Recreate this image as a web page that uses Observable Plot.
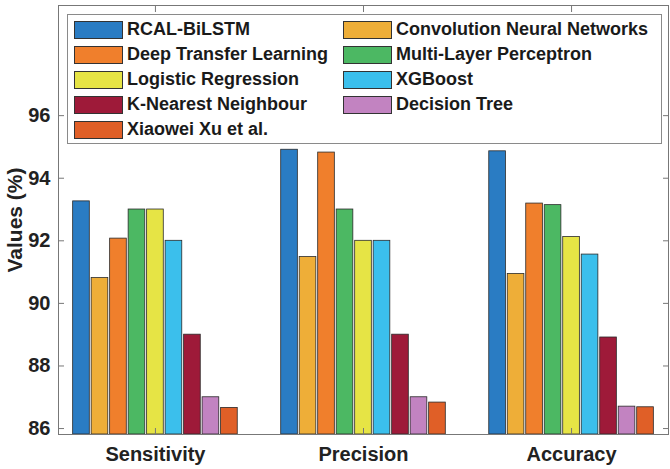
<!DOCTYPE html>
<html>
<head>
<meta charset="utf-8">
<script src="https://cdn.jsdelivr.net/npm/d3@7"></script>
<script src="https://cdn.jsdelivr.net/npm/@observablehq/plot@0.6"></script>
<style>
  html, body { margin: 0; padding: 0; background: #fff; }
  #wrap { position: relative; width: 670px; height: 469px; font-family: "Liberation Sans", Arial, sans-serif; }
  #legend {
    position: absolute; left: 67px; top: 14px; width: 587px; height: 126px;
    border: 1px solid #8a8a8a; background: #fff;
    display: grid; grid-template-columns: 269px 1fr; grid-auto-rows: 25px;
    padding: 2px 0 0 6px; box-sizing: content-box;
  }
  .item { display: flex; align-items: center; font-weight: bold; font-size: 18px; color: #1a1a1a; white-space: nowrap; }
  .sw { width: 47px; height: 16px; border: 1px solid #333; margin-right: 4px; flex: none; }
</style>
</head>
<body>
<div id="wrap"></div>
<script>
const metrics = ["Sensitivity", "Precision", "Accuracy"];
const methods = ["RCAL-BiLSTM", "Convolution Neural Networks", "Deep Transfer Learning", "Multi-Layer Perceptron",
  "Logistic Regression", "XGBoost", "K-Nearest Neighbour", "Decision Tree", "Xiaowei Xu et al."];
const colors = ["#2a7cc3", "#eeae38", "#f07f2c", "#4cb863", "#e6e445", "#3bbfec", "#9e1a39", "#c283c1", "#e05f27"];
const sensitivity = [93.26, 90.81, 92.07, 93.0, 93.0, 92.0, 89.0, 87.0, 86.66];
const precision   = [94.91, 91.48, 94.82, 93.0, 92.0, 92.0, 89.0, 87.0, 86.83];
const accuracy    = [94.86, 90.94, 93.19, 93.14, 92.12, 91.56, 88.91, 86.70, 86.68];
const yTicks = [86, 88, 90, 92, 94, 96];
const yDomain = [85.81, 99.52];

const seriesByMetric = [sensitivity, precision, accuracy];
const rows = [];
metrics.forEach((m, g) => methods.forEach((name, s) => rows.push({metric: m, g, s, method: name, value: seriesByMetric[g][s]})));

const n = methods.length;
const groupWidth = 0.8;
const step = groupWidth / n;
const barW = step * 0.9;
const center = d => d.g + (d.s - (n - 1) / 2) * step;

const axisColor = "#777";
const plot = Plot.plot({
  width: 670, height: 469,
  marginLeft: 58, marginRight: 2, marginTop: 5, marginBottom: 35,
  style: {fontFamily: "'Liberation Sans', Arial, sans-serif", background: "#fff"},
  x: {domain: [-0.466, 2.466]},
  y: {domain: yDomain},
  color: {domain: methods, range: colors},
  marks: [
    Plot.rect(rows, {x1: d => center(d) - barW / 2, x2: d => center(d) + barW / 2,
      y1: () => yDomain[0], y2: "value", fill: "method", stroke: "#2a2a2a", strokeWidth: 0.8}),
    Plot.frame({stroke: axisColor}),
    Plot.axisY(yTicks, {anchor: "left", tickSize: -6, tickPadding: 14, stroke: axisColor,
      fontSize: 20, fontWeight: "bold", fill: "#222", label: null}),
    Plot.axisY(yTicks, {anchor: "right", tickSize: -6, stroke: axisColor, tickFormat: () => "", label: null}),
    Plot.axisX([0, 1, 2], {anchor: "bottom", tickSize: -6, tickPadding: 18, stroke: axisColor,
      tickFormat: i => metrics[i], fontSize: 20, fontWeight: "bold", fill: "#222", label: null}),
    Plot.axisX([0, 1, 2], {anchor: "top", tickSize: -6, stroke: axisColor, tickFormat: () => "", label: null}),
    Plot.text(["Values (%)"], {frameAnchor: "left", textAnchor: "middle", rotate: -90, dx: -43,
      fontSize: 21, fontWeight: "bold", fill: "#222"})
  ]
});

const wrap = document.getElementById("wrap");
wrap.appendChild(plot);
const legend = document.createElement("div");
legend.id = "legend";
methods.forEach((name, i) => {
  const item = document.createElement("div");
  item.className = "item";
  const sw = document.createElement("span");
  sw.className = "sw";
  sw.style.background = colors[i];
  item.appendChild(sw);
  item.appendChild(document.createTextNode(name));
  legend.appendChild(item);
});
wrap.appendChild(legend);
</script>
</body>
</html>
